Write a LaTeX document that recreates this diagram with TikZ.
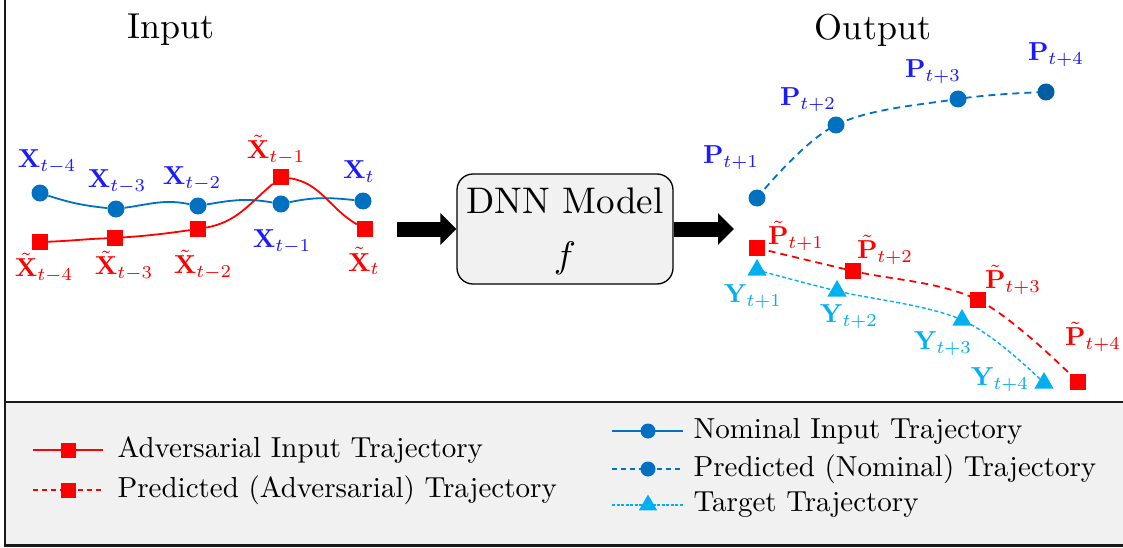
\documentclass[tikz,border=0pt]{standalone}
\usepackage{graphicx}
\usetikzlibrary{shapes.geometric,arrows.meta}

\definecolor{nomblue}{HTML}{0070C0}
\definecolor{lblblue}{HTML}{1A1AFF}
\definecolor{advred}{HTML}{FF0000}
\definecolor{tgtcyan}{HTML}{00B0F0}
\definecolor{panel}{HTML}{F1F1F1}

\pgfdeclarelayer{back}
\pgfdeclarelayer{curves}
\pgfsetlayers{back,curves,main}

\tikzset{
  dotmark/.style={circle, fill=nomblue, inner sep=0pt, minimum size=17pt},
  sqmark/.style={rectangle, fill=advred, inner sep=0pt, minimum size=16pt},
  trimark/.style={regular polygon, regular polygon sides=3, fill=tgtcyan, inner sep=0pt, minimum size=22pt},
  lbl/.style={inner sep=0pt, scale=2.6},
  bluelbl/.style={lbl, text=lblblue},
  redlbl/.style={lbl, text=advred},
  cyanlbl/.style={lbl, text=tgtcyan},
  titletext/.style={inner sep=0pt, scale=3.6},
  legtext/.style={anchor=west, inner sep=0pt, scale=2.9},
  nomline/.style={draw=nomblue, line width=1.8pt},
  nomdash/.style={draw=nomblue, line width=1.8pt, dash pattern=on 7pt off 5pt},
  advline/.style={draw=advred, line width=1.8pt},
  advdash/.style={draw=advred, line width=1.8pt, dash pattern=on 7pt off 5pt},
  tgtdash/.style={draw=tgtcyan, line width=1.4pt, dash pattern=on 4pt off 2.5pt},
  blockarrow/.style={line width=15pt, -{Triangle[length=16pt,width=31pt]}},
  frameline/.style={line width=2.4pt, draw=black!90},
}

\begin{document}
\begin{tikzpicture}[x=1pt, y=-1pt]
\useasboundingbox (0,0) rectangle (1123,548);

% legend panel and frame
\begin{pgfonlayer}{back}
  \fill[panel] (5,402) rectangle (1123,545);
\end{pgfonlayer}
\draw[frameline] (5,0) -- (5,546.2);
\draw[frameline] (5,402) -- (1123,402);
\draw[frameline] (3.8,545.5) -- (1123,545.5);

% titles
\node[titletext] (intitle) at (171,30) {Input};
\node[titletext] (outtitle) at (873,30) {Output};

% input trajectories
\node[dotmark] (x4) at (40,193) {};
\node[dotmark] (x3) at (116,209) {};
\node[dotmark] (x2) at (198,206) {};
\node[dotmark] (x1) at (281,204) {};
\node[dotmark] (x0) at (363,201) {};

\node[sqmark] (a4) at (40,242) {};
\node[sqmark] (a3) at (115,238) {};
\node[sqmark] (a2) at (198,229) {};
\node[sqmark] (a1) at (281,177) {};
\node[sqmark] (a0) at (365,229) {};

\node[bluelbl] (lx4) at (47,162) {$\mathbf{X}_{t-4}$};
\node[bluelbl] (lx3) at (117,182) {$\mathbf{X}_{t-3}$};
\node[bluelbl] (lx2) at (192,179) {$\mathbf{X}_{t-2}$};
\node[bluelbl] (lx1) at (282,242) {$\mathbf{X}_{t-1}$};
\node[bluelbl] (lx0) at (359,172) {$\mathbf{X}_{t}$};

\node[redlbl] (la4) at (44,268) {$\tilde{\mathbf{X}}_{t-4}$};
\node[redlbl] (la3) at (124,266) {$\tilde{\mathbf{X}}_{t-3}$};
\node[redlbl] (la2) at (203,265) {$\tilde{\mathbf{X}}_{t-2}$};
\node[redlbl] (la1) at (276,150) {$\tilde{\mathbf{X}}_{t-1}$};
\node[redlbl] (la0) at (364,261) {$\tilde{\mathbf{X}}_{t}$};

% model block
\node[draw, line width=1.3pt, rounded corners=16pt, fill=panel, minimum width=216pt,
      minimum height=110pt, inner sep=0pt] (dnn) at (565,229) {};
\node[inner sep=0pt, scale=3.7] (dnnname) at (565,201) {DNN Model};
\node[inner sep=0pt, scale=3.7] (dnnf) at (565,258) {$f$};

\coordinate (inarrow) at (397,229);
\coordinate (outarrow) at (734,229);
\draw[blockarrow] (inarrow) -- (dnn.west);
\draw[blockarrow] (dnn.east) -- (outarrow);

% output trajectories
\node[dotmark] (p1) at (757,198) {};
\node[dotmark] (p2) at (836,125) {};
\node[dotmark] (p3) at (958,99) {};
\node[dotmark, fill=nomblue!85!black] (p4) at (1046,92) {};

\node[sqmark] (q1) at (757,248) {};
\node[sqmark] (q2) at (853,271) {};
\node[sqmark] (q3) at (978,300) {};
\node[sqmark] (q4) at (1078,382) {};

\node[trimark] (y1) at (757,270) {};
\node[trimark] (y2) at (837,291) {};
\node[trimark] (y3) at (962,320) {};
\node[trimark] (y4) at (1044,383) {};

\node[bluelbl] (lp1) at (731,158) {$\mathbf{P}_{t+1}$};
\node[bluelbl] (lp2) at (808,100) {$\mathbf{P}_{t+2}$};
\node[bluelbl] (lp3) at (933,72) {$\mathbf{P}_{t+3}$};
\node[bluelbl] (lp4) at (1056,55) {$\mathbf{P}_{t+4}$};

\node[redlbl] (lq1) at (796,236) {$\tilde{\mathbf{P}}_{t+1}$};
\node[redlbl] (lq2) at (885,250) {$\tilde{\mathbf{P}}_{t+2}$};
\node[redlbl] (lq3) at (1013,280) {$\tilde{\mathbf{P}}_{t+3}$};
\node[redlbl] (lq4) at (1093,337) {$\tilde{\mathbf{P}}_{t+4}$};

\node[cyanlbl] (ly1) at (753,297) {$\mathbf{Y}_{t+1}$};
\node[cyanlbl] (ly2) at (849,317) {$\mathbf{Y}_{t+2}$};
\node[cyanlbl] (ly3) at (943,344) {$\mathbf{Y}_{t+3}$};
\node[cyanlbl] (ly4) at (1000,380) {$\mathbf{Y}_{t+4}$};

% legend
\coordinate (la) at (33,450);  \coordinate (lb) at (103,450);
\coordinate (lc) at (33,490);  \coordinate (ld) at (103,490);
\coordinate (le) at (612,431); \coordinate (lf) at (683,431);
\coordinate (lg) at (612,469); \coordinate (lh) at (683,469);
\coordinate (li) at (612,505); \coordinate (lj) at (683,505);

\node[sqmark, minimum size=15pt] (mk1) at (68,450) {};
\node[sqmark, minimum size=15pt] (mk2) at (68,490) {};
\node[dotmark, minimum size=15pt] (mk3) at (648,431) {};
\node[dotmark, minimum size=15pt] (mk4) at (648,469) {};
\node[trimark, minimum size=21pt] (mk5) at (648,505) {};

\node[legtext] (t1) at (117,450) {Adversarial Input Trajectory};
\node[legtext] (t2) at (117,490) {Predicted (Adversarial) Trajectory};
\node[legtext] (t3) at (693,431) {Nominal Input Trajectory};
\node[legtext] (t4) at (693,469) {Predicted (Nominal) Trajectory};
\node[legtext] (t5) at (693,505) {Target Trajectory};

% connecting curves beneath the markers (to-path angles are screen angles)
\begin{pgfonlayer}{curves}
  \draw[nomline] (x4) to[out=-18,in=174] (x3) to[out=8,in=168] (x2)
                 to[out=10,in=170] (x1) to[out=12,in=174] (x0);
  \draw[advline] (a4) to[out=2,in=-178] (a3) to[out=4,in=-172] (a2)
                 to[out=10,in=-140] (a1) to[out=-8,in=150] (a0);
  \draw[nomdash] plot[smooth, tension=0.6] coordinates {(p1) (p2) (p3) (p4)};
  \draw[advdash] plot[smooth, tension=0.6] coordinates {(q1) (q2) (q3) (q4)};
  \draw[tgtdash] plot[smooth, tension=0.6] coordinates {(y1) (y2) (y3) (y4)};
  \draw[advline, line width=1.4pt] (la) -- (lb);
  \draw[advline, line width=1.4pt, dash pattern=on 5pt off 4pt] (lc) -- (ld);
  \draw[nomline, line width=1.4pt] (le) -- (lf);
  \draw[nomline, line width=1.4pt, dash pattern=on 5pt off 4pt] (lg) -- (lh);
  \draw[tgtdash, line width=1.1pt, dash pattern=on 3pt off 1.5pt] (li) -- (lj);
\end{pgfonlayer}
\end{tikzpicture}
\end{document}
